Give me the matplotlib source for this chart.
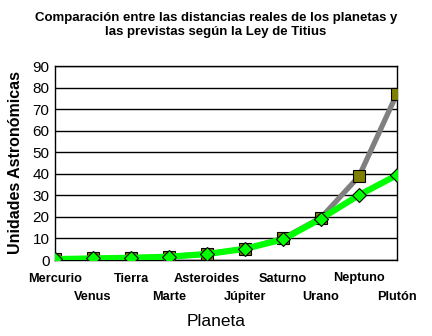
import matplotlib
matplotlib.use("Agg")
import matplotlib.pyplot as plt

plt.rcParams['font.family'] = ['Liberation Sans', 'DejaVu Sans']

planetas = ['Mercurio', 'Venus', 'Tierra', 'Marte', 'Asteroides',
            'Júpiter', 'Saturno', 'Urano', 'Neptuno', 'Plutón']
titius = [0.4, 0.7, 1.0, 1.6, 2.8, 5.2, 10.0, 19.6, 38.8, 77.2]
reales = [0.39, 0.72, 1.0, 1.52, 2.77, 5.2, 9.54, 19.2, 30.1, 39.4]

fig = plt.figure(figsize=(4.32, 3.36), dpi=100)
ax = fig.add_axes([55/432, 76/336, 342/432, 194/336])

x = list(range(len(planetas)))
ax.plot(x, titius, color='#808080', lw=3.8, marker='s', ms=8,
        mfc='#808000', mec='black', mew=0.8, zorder=3)
ax.plot(x, reales, color='#00ff00', lw=4.5, marker='D', ms=7,
        mfc='#00ff00', mec='black', mew=0.8, zorder=4)

ax.set_xlim(0, len(planetas) - 1)
ax.set_ylim(0, 90)
ax.set_yticks(range(0, 91, 10))
ax.yaxis.grid(True, color='black', lw=1)
ax.set_axisbelow(True)
ax.tick_params(axis='both', which='both', length=0)
ax.tick_params(axis='y', labelsize=11, pad=4)

# etiquetas alternadas: pares arriba (major), impares abajo (minor)
ax.set_xticks(x[0::2])
ax.set_xticklabels(planetas[0::2], fontsize=9.2, fontweight='bold')
ax.set_xticks(x[1::2], minor=True)
ax.set_xticklabels(planetas[1::2], minor=True, fontsize=9.2, fontweight='bold')
ax.tick_params(axis='x', which='major', pad=9)
ax.tick_params(axis='x', which='minor', pad=22)
for s in ax.spines.values():
    s.set_color('black')
    s.set_linewidth(1)

ax.set_ylabel('Unidades Astronómicas', fontsize=11.5, fontweight='bold', labelpad=7)
fig.text(0.5, 15/336, 'Planeta', ha='center', va='center', fontsize=12.5)
fig.text(0.5, 1 - 25/336,
         'Comparación entre las distancias reales de los planetas y\nlas previstas según la Ley de Titius',
         ha='center', va='center', fontsize=9.5, fontweight='bold', linespacing=1.2)

fig.savefig('out.png', dpi=100)
